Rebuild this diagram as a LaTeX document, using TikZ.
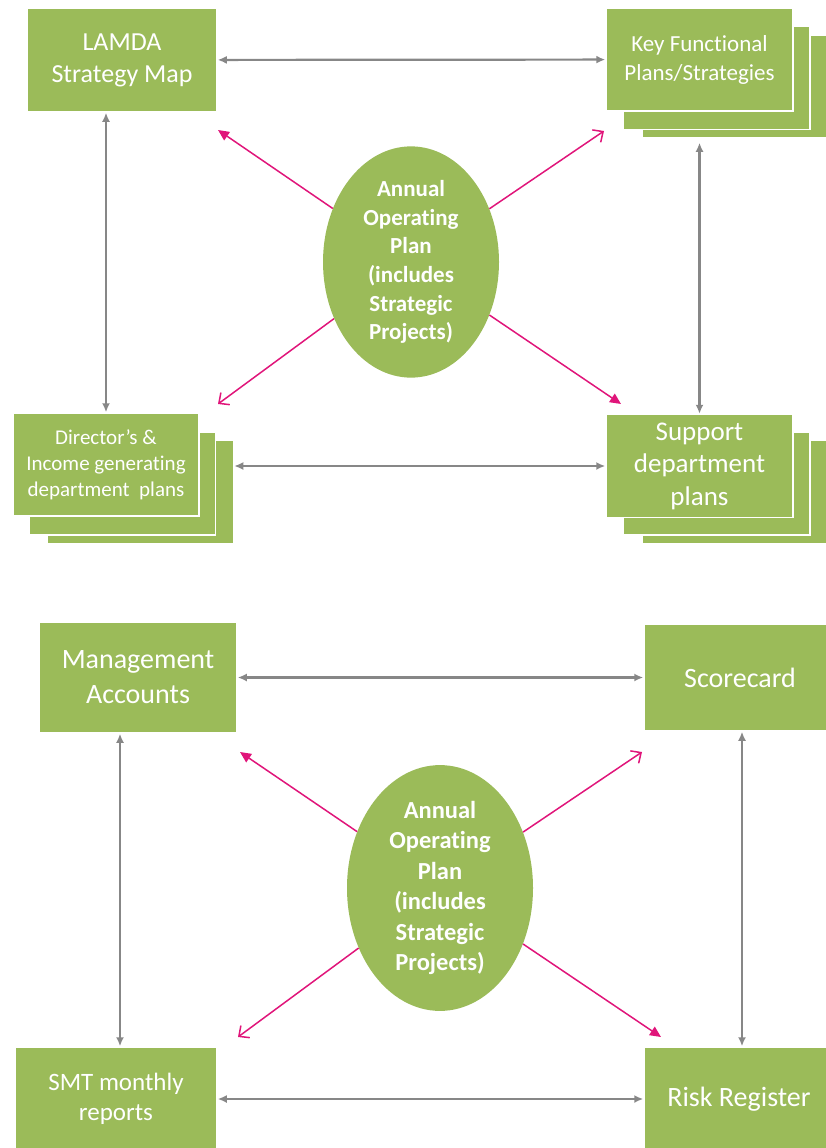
\documentclass[tikz,border=0pt]{standalone}
\usepackage{xcolor}
\usepackage{fontspec}
\setmainfont[Ligatures=NoCommon]{Carlito}
\usepackage{tikz}
\usetikzlibrary{shapes,arrows.meta,positioning}

\definecolor{lgreen}{HTML}{9BBB59}
\definecolor{lgray}{HTML}{878787}
\definecolor{lpink}{HTML}{E0157A}

\begin{document}
\begin{tikzpicture}[
    x=1pt, y=-1pt,
    box/.style={rectangle, draw=white, line width=1.5pt, fill=lgreen, text=white, align=center, inner sep=0pt},
    aop/.style={ellipse, fill=lgreen, text=white, align=center, inner sep=0pt},
    link/.style={{Latex[length=9pt,width=8pt]}-{Latex[length=9pt,width=8pt]}, draw=lgray, line width=2.2pt},
    spoke/.style={-{Triangle[length=11pt,width=10pt]}, draw=lpink, line width=1.5pt},
    spokeopen/.style={-{Straight Barb[length=8pt,width=15pt]}, draw=lpink, line width=1.5pt}
]
    \useasboundingbox (0,0) rectangle (825,1148);

    % Top diagram
    \node[box, minimum width=190pt, minimum height=104pt, font=\fontsize{26}{32}\selectfont] (lamda) at (122,60) {LAMDA\\Strategy Map};

    \node[box, minimum width=187pt, minimum height=103pt] (kfp3) at (735.5,86.5) {};
    \node[box, minimum width=187pt, minimum height=103pt] (kfp2) at (716.5,78) {};
    \node[box, minimum width=187pt, minimum height=103pt, font=\fontsize{23}{29}\selectfont] (kfp) at (699.5,59.5) {Key Functional\\Plans/Strategies};

    \node[box, minimum width=186pt, minimum height=103pt] (dir3) at (140.5,492) {};
    \node[box, minimum width=186pt, minimum height=103pt] (dir2) at (122.5,483.5) {};
    \node[box, minimum width=186pt, minimum height=103pt, font=\fontsize{21}{26}\selectfont] (dir) at (106,464.5) {Director’s \&\\Income generating\\department\ \ plans};

    \node[box, minimum width=187pt, minimum height=103pt] (sup3) at (735.5,492) {};
    \node[box, minimum width=187pt, minimum height=103pt] (sup2) at (716.5,483.5) {};
    \node[box, minimum width=187pt, minimum height=103pt, font=\fontsize{27}{32.5}\selectfont] (sup) at (699.5,466) {Support\\department\\plans};

    \node[aop, minimum width=176pt, minimum height=210pt, font=\bfseries\fontsize{23}{28.7}\selectfont] (aop1) at (411,262) {Annual\\Operating\\Plan\\(includes\\Strategic\\Projects)};

    \coordinate (aop1ul) at (218,130);
    \coordinate (aop1ur) at (604,131);
    \coordinate (aop1ll) at (218,404);
    \coordinate (aop1lr) at (621,404);

    % Bottom diagram
    \node[box, minimum width=198pt, minimum height=111pt, font=\fontsize{28}{35}\selectfont] (mgmt) at (138,677.5) {Management\\Accounts};
    \node[box, minimum width=192pt, minimum height=107pt, font=\fontsize{28}{34}\selectfont] (score) at (740,677.5) {Scorecard};
    \node[box, minimum width=202pt, minimum height=104pt, font=\fontsize{25}{30}\selectfont] (smt) at (116,1099) {SMT monthly\\reports};
    \node[box, minimum width=190pt, minimum height=104pt, font=\fontsize{28}{34}\selectfont] (risk) at (739,1099) {Risk Register};

    \node[aop, minimum width=186pt, minimum height=220pt, font=\bfseries\fontsize{24.5}{30.5}\selectfont] (aop2) at (440,888) {Annual\\Operating\\Plan\\(includes\\Strategic\\Projects)};

    \coordinate (aop2ul) at (240,752);
    \coordinate (aop2ur) at (642,752);
    \coordinate (aop2ll) at (238,1037);
    \coordinate (aop2lr) at (661,1037);

    % Arrows
    \draw[link] (lamda) -- (kfp);
    \draw[link] (lamda.south -| dir.north) -- (dir.north);
    \draw[link, shorten <=4pt] (sup.north |- kfp3.south) -- (sup.north);
    \draw[link] (sup.west -| dir3.east) -- (sup.west);
    \draw[spoke] (aop1) -- (aop1ul);
    \draw[spokeopen] (aop1) -- (aop1ur);
    \draw[spokeopen] (aop1) -- (aop1ll);
    \draw[spoke] (aop1) -- (aop1lr);

    \draw[link] (mgmt) -- (score);
    \draw[link] (mgmt.south -| 120,0) -- (smt.north -| 120,0);
    \draw[link] (score.south -| 742,0) -- (risk.north -| 742,0);
    \draw[link] (smt) -- (risk);
    \draw[spoke] (aop2) -- (aop2ul);
    \draw[spokeopen] (aop2) -- (aop2ur);
    \draw[spokeopen] (aop2) -- (aop2ll);
    \draw[spoke] (aop2) -- (aop2lr);
\end{tikzpicture}
\end{document}
